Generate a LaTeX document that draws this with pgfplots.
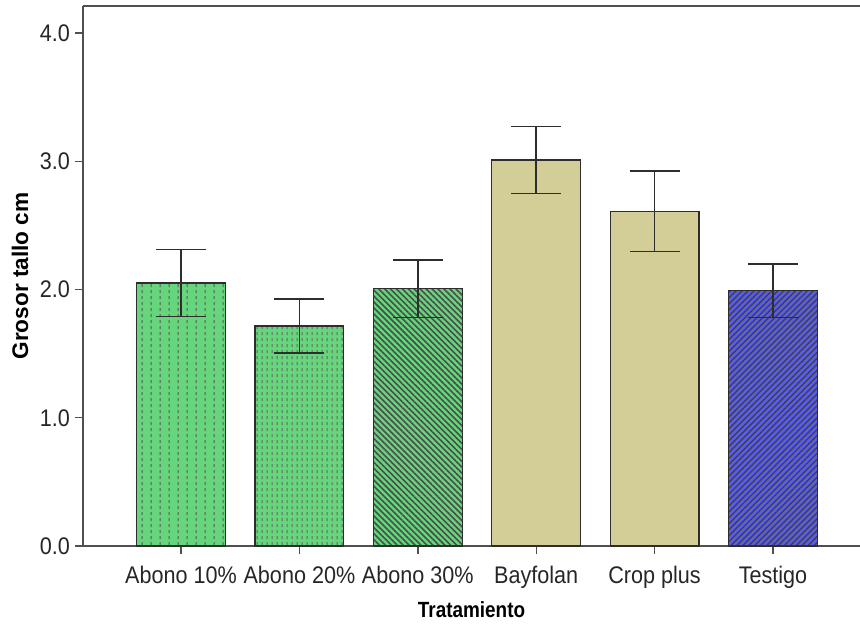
\documentclass[border=0pt]{standalone}
\usepackage{pgfplots}
\pgfplotsset{compat=1.18}
\usepackage{fontspec}
\setmainfont{Liberation Sans}
\newfontfamily\narrowfont[FakeStretch=0.9]{Liberation Sans}
\newfontfamily\narrowbold[FakeStretch=0.86]{Liberation Sans Bold}
\usetikzlibrary{patterns,patterns.meta}
\definecolor{bgreen}{RGB}{102,214,124}
\definecolor{btan}{RGB}{211,206,151}
\definecolor{bblue}{RGB}{88,92,240}
\definecolor{axgray}{RGB}{80,80,80}
\definecolor{edge}{RGB}{45,45,45}
\tikzdeclarepattern{
  name=vdashA,
  type=uncolored,
  bounding box={(0pt,0pt) and (4.3pt,3pt)},
  tile size={(4.3pt,3pt)},
  code={\draw[line width=0.6pt] (2.15pt,0.5pt) -- (2.15pt,2.3pt);}
}
\tikzdeclarepattern{
  name=vdashB,
  type=uncolored,
  bounding box={(0pt,0pt) and (2.5pt,3pt)},
  tile size={(2.5pt,3pt)},
  code={\draw[line width=0.6pt] (1.25pt,0.5pt) -- (1.25pt,2.2pt);}
}
\begin{document}
\begin{tikzpicture}
\path[use as bounding box] (0,0) rectangle (430pt,314.5pt);
\begin{axis}[
  at={(41.5pt,41.5pt)}, anchor=south west,
  width=388.5pt, height=270pt, scale only axis,
  xmin=-0.828, xmax=5.735,
  ymin=0, ymax=4.21,
  axis x line*=bottom, axis y line*=left,
  axis line style={axgray, line width=0.8pt},
  ybar, bar width=0.75, bar shift=0pt,
  xtick={0,1,2,3,4,5},
  xticklabels={Abono 10\%,Abono 20\%,Abono 30\%,Bayfolan,Crop plus,Testigo},
  ytick={0,1,2,3,4},
  yticklabel style={xshift=1pt, /pgf/number format/.cd, fixed, fixed zerofill, precision=1},
  /pgf/number format/assume math mode=true,
  tick style={axgray, line width=0.7pt},
  tick align=outside, major tick length=4pt,
  ticklabel style={font=\narrowfont\fontsize{12}{14}\selectfont, text=black!85},
  xticklabel style={yshift=-2.5pt},
  xlabel={Tratamiento},
  ylabel={\textbf{Grosor tallo cm}},
  xlabel style={font=\narrowbold\fontsize{11}{13}\selectfont,
    at={(axis description cs:0.5,0)}, anchor=center, yshift=-32pt},
  ylabel style={font=\fontsize{11.3}{13}\selectfont,
    at={(axis description cs:0,0.5)}, anchor=center, yshift=31.5pt},
  clip=false,
  error bars/y dir=both, error bars/y explicit,
  error bars/error bar style={edge, line width=0.75pt},
  error bars/error mark options={rotate=90, edge, mark size=12.5pt, line width=0.75pt},
]
\addplot[draw=edge, line width=0.6pt, fill=bgreen,
  postaction={pattern=vdashA, pattern color=black!65}]
  coordinates {(0,2.05) +- (0,0.26)};
\addplot[draw=edge, line width=0.6pt, fill=bgreen,
  postaction={pattern=vdashB, pattern color=black!60}]
  coordinates {(1,1.715) +- (0,0.21)};
\addplot[draw=edge, line width=0.6pt, fill=bgreen,
  postaction={pattern={Lines[angle=-45, distance=2.1pt, line width=0.8pt]}, pattern color=black!70}]
  coordinates {(2,2.005) +- (0,0.225)};
\addplot[draw=edge, line width=0.6pt, fill=btan]
  coordinates {(3,3.01) +- (0,0.26)};
\addplot[draw=edge, line width=0.6pt, fill=btan]
  coordinates {(4,2.61) +- (0,0.315)};
\addplot[draw=edge, line width=0.6pt, fill=bblue,
  postaction={pattern={Lines[angle=45, distance=2.1pt, line width=0.7pt]}, pattern color=black!75}]
  coordinates {(5,1.99) +- (0,0.21)};
\draw[axgray, line width=0.9pt] (rel axis cs:0,1) -- (rel axis cs:1,1);
\end{axis}
\end{tikzpicture}
\end{document}
